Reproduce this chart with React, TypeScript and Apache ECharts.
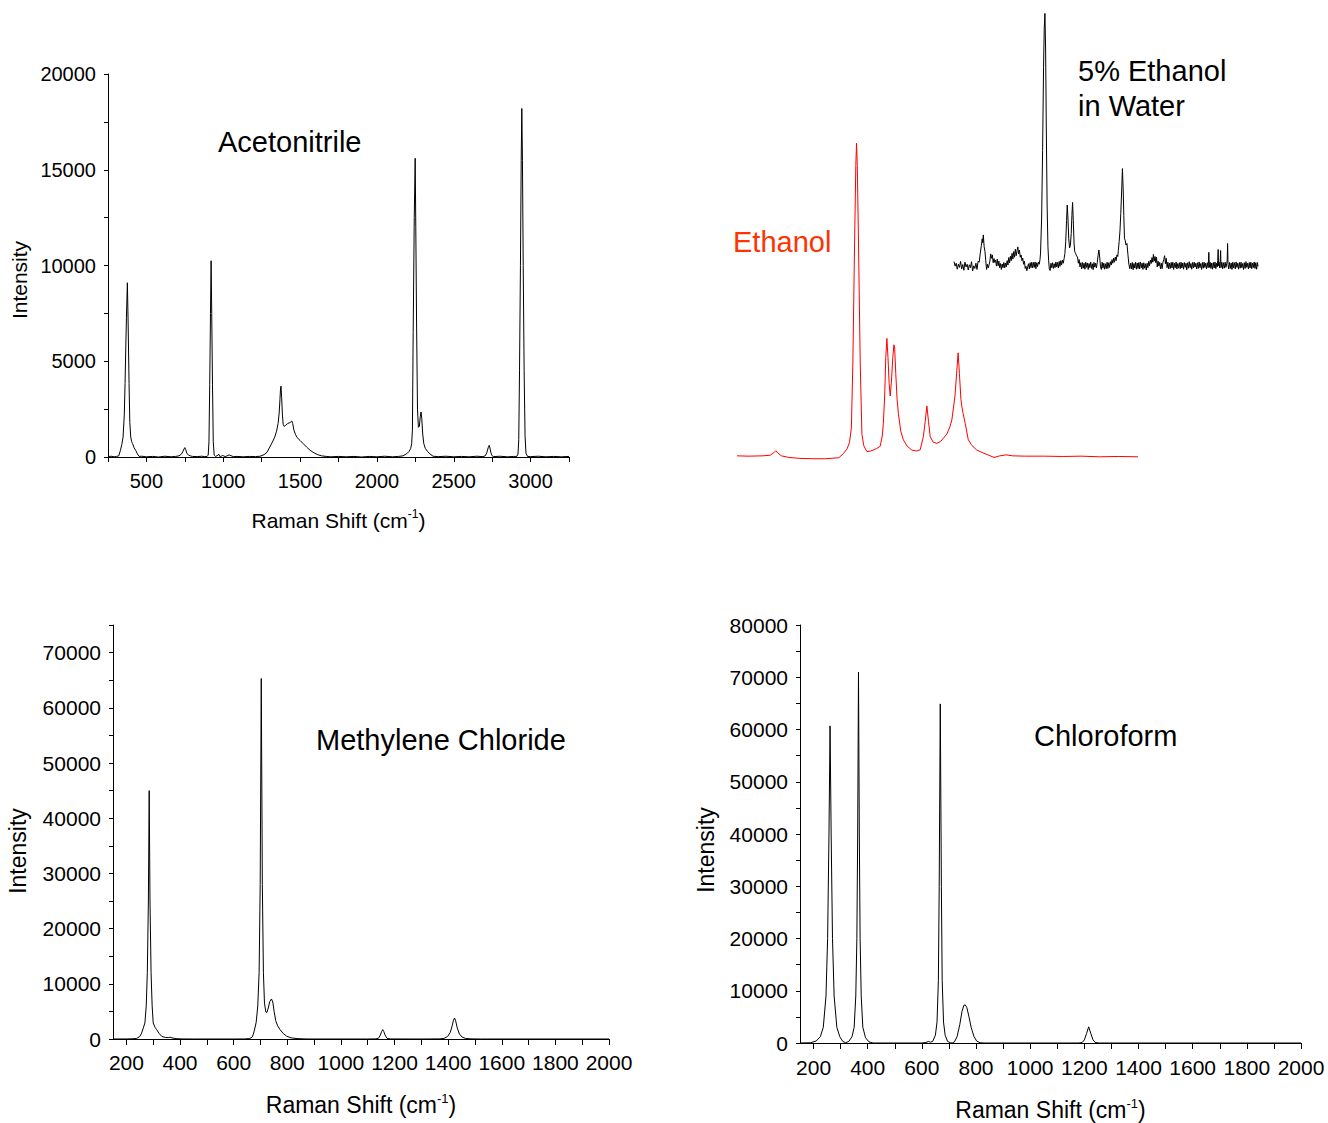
import React, { useEffect, useRef } from "react";
import * as echarts from "echarts";

const FONT = '"Liberation Sans", Arial, Helvetica, sans-serif';

// ---------- Acetonitrile (top-left) ----------
const ACN_X_TICKS = [250, 500, 750, 1000, 1250, 1500, 1750, 2000, 2250, 2500, 2750, 3000, 3250];
const ACN_X_LABELS = [500, 1000, 1500, 2000, 2500, 3000];
const ACN_Y_TICKS = [0, 2500, 5000, 7500, 10000, 12500, 15000, 17500, 20000];
const ACN_Y_LABELS = [0, 5000, 10000, 15000, 20000];
const ACETONITRILE: [number, number][] = [
  [250, 20], [270, 40], [290, 10], [305, 30], [320, 60], [331, 350], [340, 650], [348, 1040], [356, 2200],
  [361, 3830], [366, 5800], [370, 7300], [376, 9100], [381, 7000], [387, 3830], [392, 1800], [398, 1040],
  [404, 800], [410, 700], [420, 480], [430, 350], [440, 180], [452, 30], [470, 40], [500, 10], [540, 30],
  [580, 0], [620, 40], [660, 10], [690, 30], [712, 60], [728, 150], [738, 300], [745, 420], [750, 490],
  [756, 380], [763, 200], [772, 110], [785, 60], [800, 30], [830, 20], [860, 40], [880, 20], [895, 30],
  [902, 100], [907, 800], [912, 3800], [917, 7500], [921, 10250], [925, 7500], [930, 3800], [935, 800],
  [941, 100], [950, 30], [965, 90], [971, 150], [976, 40], [985, 30], [995, 80], [1003, 60], [1012, 20],
  [1025, 60], [1038, 110], [1050, 70], [1065, 20], [1090, 30], [1130, 10], [1170, 30], [1210, 20],
  [1240, 40], [1265, 120], [1285, 250], [1303, 520], [1320, 780], [1335, 1040], [1347, 1350], [1357, 1750],
  [1364, 2300], [1369, 3000], [1373, 3600], [1376, 3700], [1380, 3100], [1385, 2200], [1390, 1700],
  [1396, 1600], [1405, 1650], [1420, 1750], [1435, 1800], [1446, 1880], [1452, 1750], [1460, 1400],
  [1470, 1180], [1480, 1020], [1500, 860], [1520, 700], [1542, 520], [1565, 350], [1590, 220], [1615, 120],
  [1640, 60], [1670, 30], [1700, 10], [1750, 30], [1800, 10], [1850, 30], [1900, 0], [1950, 30], [2000, 10],
  [2050, 40], [2100, 10], [2140, 30], [2170, 60], [2195, 180], [2210, 300], [2220, 450], [2226, 700],
  [2231, 1400], [2236, 6500], [2243, 12500], [2249, 15600], [2253, 12000], [2258, 7000], [2264, 2500],
  [2270, 1550], [2276, 1600], [2282, 2100], [2287, 2350], [2292, 2000], [2298, 1200], [2305, 700],
  [2315, 450], [2330, 280], [2345, 160], [2365, 40], [2400, 20], [2450, 40], [2500, 10], [2550, 30],
  [2600, 10], [2650, 40], [2690, 20], [2705, 60], [2715, 220], [2724, 480], [2731, 610], [2737, 420],
  [2741, 250], [2745, 150], [2750, 60], [2760, 20], [2800, 40], [2850, 10], [2890, 30], [2910, 30],
  [2918, 150], [2923, 900], [2928, 4500], [2934, 10000], [2939, 15500], [2943, 18200], [2947, 15500],
  [2952, 10000], [2958, 4500], [2964, 1100], [2970, 200], [2980, 30], [3000, 20], [3050, 40], [3100, 10],
  [3150, 30], [3200, 10], [3250, 30],
];

// ---------- Ethanol (top-right, red) ----------
const ETHANOL: [number, number][] = [
  [240, 1.3], [300, 1.2], [380, 1.3], [420, 1.5], [440, 2.3], [450, 2.9], [460, 2.2], [480, 1.3], [520, 0.8],
  [580, 0.5], [650, 0.4], [720, 0.4], [790, 0.7], [815, 2], [835, 3.5], [848, 5.5], [858, 10], [866, 30],
  [876, 70], [882, 92], [886, 99], [890, 92], [896, 70], [906, 30], [915, 8], [925, 4.5], [942, 2.6],
  [960, 2.8], [977, 3.1], [995, 3.6], [1014, 4.3], [1025, 7.5], [1031, 11.5], [1038, 20], [1044, 32],
  [1050, 38], [1056, 32], [1062, 24], [1068, 20], [1075, 25], [1082, 32], [1088, 36], [1092, 35],
  [1098, 27], [1105, 19], [1112, 14.6], [1125, 9], [1139, 6.3], [1160, 4.3], [1185, 3.1], [1210, 2.8],
  [1230, 3.2], [1247, 7.3], [1257, 12], [1266, 16.9], [1275, 12], [1284, 7.3], [1300, 5.6], [1320, 5.2],
  [1340, 5.8], [1355, 6.8], [1374, 8.1], [1390, 10.3], [1401, 12.5], [1418, 20], [1428, 28], [1435, 33.5],
  [1442, 27], [1450, 19], [1455, 16.7], [1462, 14.5], [1473, 11.5], [1490, 6.3], [1510, 4.5], [1536, 3.1],
  [1570, 2.2], [1600, 1.5], [1629, 0.8], [1660, 1.3], [1694, 1.6], [1730, 1.3], [1800, 1.2], [1900, 1.2],
  [2000, 1.1], [2100, 1.2], [2200, 1.0], [2300, 1.1], [2407, 1.0],
];

// ---------- 5% Ethanol in Water (top-right, black) ----------
const ETHANOL_WATER: [number, number][] = [
  [220, 3.2], [228, 1.5], [236, 2.6], [244, 0.3], [252, 2.2], [260, 1.0], [268, 3.3], [276, 0.4], [284, 2.1],
  [292, -0.1], [300, 3.0], [308, 1.2], [316, 2.2], [324, 0.0], [332, 2.0], [340, 0.9], [348, 3.2], [356, -0.4],
  [364, 1.6], [372, 0.6], [380, 2.6], [388, 0.2], [396, 3.4], [404, 3.0], [412, 6.5], [420, 9.5], [426, 12],
  [430, 10.5], [434, 13.5], [440, 9], [446, 7.2], [452, 3.5], [458, 0.2], [464, 2.2], [470, 0.8], [476, 2.0],
  [482, 3.4], [488, 6.2], [494, 4.5], [500, 5.8], [506, 2.8], [512, 4.4], [518, 2.9], [524, 3.8], [530, 1.5],
  [536, 4.2], [542, 1.6], [548, 3.4], [554, 0.8], [560, 2.5], [566, 0.2], [572, 2.3], [578, 0.9], [584, 2.9],
  [590, 0.8], [596, 2.7], [602, 1.2], [608, 3.6], [614, 1.9], [620, 4.8], [626, 2.7], [632, 5.3], [638, 3.6],
  [644, 6.4], [650, 4.2], [656, 7.1], [662, 4.9], [668, 8.0], [674, 5.5], [680, 7.4], [686, 8.9], [692, 6.2],
  [698, 7.6], [704, 4.9], [710, 5.8], [716, 3.6], [722, 4.6], [728, 2.2], [734, 3.4], [740, 0.6], [746, 1.4],
  [752, -0.3], [758, 1.2], [764, 2.4], [770, 0.4], [776, 2.8], [782, 0.9], [788, 3.0], [794, 0.8], [800, 2.9],
  [806, 1.0], [812, 3.1], [818, 0.5], [824, 2.8], [830, 1.3], [836, 3.0], [842, 2.2], [848, 4.0], [852, 6.5],
  [860, 20], [867, 46], [874, 78], [879, 93], [884, 98.7], [889, 85], [894, 55], [900, 25], [906, 9],
  [911, 3.8], [916, 0.4], [922, -0.2], [928, 2.6], [934, 0.9], [940, 2.8], [946, 0.6], [952, 2.4], [958, 0.9],
  [964, 3.1], [970, 1.2], [976, 2.9], [982, 0.8], [988, 3.3], [994, 1.4], [1000, 3.6], [1006, 2.0], [1012, 3.8],
  [1018, 2.6], [1024, 4.4], [1030, 6.4], [1036, 11], [1042, 19], [1047, 25], [1052, 20], [1058, 12],
  [1064, 8.5], [1070, 9.5], [1076, 14], [1081, 21], [1086, 26], [1091, 19], [1097, 10], [1102, 7],
  [1108, 6.4], [1115, 5.4], [1122, 5.0], [1128, 2.6], [1134, 4.0], [1140, 1.2], [1146, 2.8], [1152, 0.4],
  [1158, 2.9], [1164, 0.7], [1170, 2.6], [1176, 0.3], [1182, 3.0], [1188, 1.0], [1194, 2.7], [1200, 0.2],
  [1206, 2.5], [1212, 0.9], [1218, 3.1], [1224, 0.6], [1230, 2.4], [1236, 0.1], [1242, 2.9], [1248, 1.1],
  [1254, 2.6], [1260, 0.8], [1266, 2.8], [1272, 5.5], [1278, 7.7], [1284, 5.0], [1290, 1.2], [1296, 0.2],
  [1302, 3.0], [1308, 0.7], [1314, 2.6], [1320, 0.3], [1326, 2.4], [1332, 0.5], [1338, 3.0], [1344, 0.6],
  [1350, 2.8], [1356, 1.0], [1362, 3.2], [1368, 1.9], [1374, 4.0], [1380, 2.6], [1386, 4.6], [1392, 3.0],
  [1398, 5.0], [1404, 3.6], [1410, 5.8], [1416, 5.2], [1420, 7.5], [1426, 10.9], [1432, 15], [1438, 21.8],
  [1444, 30], [1450, 39], [1456, 30], [1460, 21], [1465, 12], [1470, 11.5], [1476, 9.6], [1483, 10.2],
  [1490, 6], [1497, 2.2], [1504, 0.5], [1510, 2.6], [1516, 0.4], [1522, 2.9], [1528, 0.1], [1534, 2.5],
  [1540, 0.8], [1546, 3.0], [1552, 0.3], [1558, 2.7], [1564, 0.6], [1570, 2.9], [1576, 0.4], [1582, 3.1],
  [1588, 0.9], [1594, 2.6], [1600, 0.2], [1606, 2.8], [1612, 0.7], [1618, 2.4], [1624, 0.0], [1630, 2.6],
  [1636, 0.9], [1642, 3.3], [1648, 1.6], [1654, 3.8], [1660, 2.5], [1666, 4.8], [1672, 3.0], [1676, 6.0],
  [1682, 3.4], [1688, 5.2], [1694, 2.8], [1699, 5.0], [1704, 1.2], [1710, 3.4], [1716, 1.5], [1722, 2.9],
  [1728, 0.4], [1734, 2.6], [1740, 0.5], [1746, 3.0], [1752, 4.0], [1758, 5.5], [1764, 2.4], [1770, 4.5],
  [1776, 0.9], [1782, 3.0], [1788, 0.4], [1794, 2.6], [1800, 0.6], [1806, 2.9], [1812, 0.8], [1818, 3.0],
  [1824, 0.2], [1830, 2.6], [1836, 0.9], [1842, 3.1], [1848, 0.4], [1854, 2.5], [1860, 0.7], [1866, 2.8],
  [1872, 0.5], [1878, 3.0], [1884, 0.8], [1890, 2.7], [1896, 0.3], [1902, 2.9], [1908, 1.0], [1914, 2.6],
  [1920, 0.1], [1926, 2.8], [1932, 0.7], [1938, 3.2], [1944, 0.9], [1950, 2.5], [1956, 0.3], [1962, 2.9],
  [1968, 0.8], [1974, 3.0], [1980, 1.1], [1986, 2.6], [1992, 0.4], [1998, 2.8], [2004, 0.6], [2010, 3.1],
  [2016, 0.9], [2022, 2.5], [2028, 0.2], [2034, 2.9], [2040, 0.7], [2046, 3.0], [2052, 1.0], [2058, 2.6],
  [2064, 0.4], [2070, 2.8], [2076, 0.9], [2081, 6.8], [2085, 1.0], [2090, 3.0], [2096, 0.6], [2102, 2.7],
  [2108, 0.3], [2114, 2.9], [2120, 0.8], [2126, 3.1], [2132, 0.5], [2138, 2.6], [2143, 1.2], [2146, 3.6],
  [2149, 7.9], [2152, 1.6], [2156, 3.0], [2160, 0.8], [2164, 3.4], [2167, 7.5], [2170, 0.9], [2176, 3.0],
  [2182, 0.5], [2188, 2.8], [2194, 0.7], [2200, 3.0], [2206, 1.0], [2212, 2.6], [2215, 3.8], [2218, 10.2],
  [2221, 2.2], [2226, 0.4], [2232, 2.9], [2238, 0.6], [2244, 2.7], [2250, 0.2], [2256, 3.0], [2262, 0.8],
  [2268, 2.8], [2274, 0.4], [2280, 3.1], [2286, 1.0], [2292, 2.6], [2298, 0.3], [2304, 2.9], [2310, 0.7],
  [2316, 3.0], [2322, 0.9], [2328, 2.5], [2334, 0.2], [2340, 2.8], [2346, 0.6], [2352, 3.2], [2358, 1.0],
  [2364, 2.6], [2370, 0.4], [2376, 2.9], [2382, 0.8], [2388, 3.0], [2394, 0.5], [2400, 2.7], [2406, 0.9],
  [2412, 3.1], [2418, 0.6], [2424, 2.8], [2430, 0.3], [2436, 2.9], [2440, 1.4],
];

// ---------- Methylene Chloride (bottom-left) ----------
const SHIFT_TICKS = [200, 300, 400, 500, 600, 700, 800, 900, 1000, 1100, 1200, 1300, 1400, 1500, 1600, 1700, 1800, 1900, 2000];
const SHIFT_LABELS = [200, 400, 600, 800, 1000, 1200, 1400, 1600, 1800, 2000];
const MECL_Y_TICKS = [0, 5000, 10000, 15000, 20000, 25000, 30000, 35000, 40000, 45000, 50000, 55000, 60000, 65000, 70000, 75000];
const MECL_Y_LABELS = [0, 10000, 20000, 30000, 40000, 50000, 60000, 70000];
const METHYLENE_CHLORIDE: [number, number][] = [
  [150, 0], [200, 10], [225, 40], [238, 100], [250, 450], [257, 1100], [263, 2000], [269, 2900], [274, 6000],
  [278, 12000], [282, 25000], [285, 45000], [288, 25000], [292, 12000], [296, 6000], [300, 2900], [307, 2100],
  [313, 1690], [322, 1000], [332, 470], [345, 280], [356, 250], [363, 330], [370, 200], [385, 60], [410, 10],
  [450, 0], [600, 0], [640, 10], [660, 80], [670, 400], [676, 1300], [684, 3000], [690, 6000], [695, 12000],
  [699, 28000], [703, 65300], [707, 28000], [711, 12000], [715, 6500], [720, 4900], [724, 4800], [729, 5600],
  [735, 6800], [741, 7250], [746, 6700], [751, 5000], [757, 3300], [764, 2400], [773, 1700], [785, 1000],
  [798, 500], [815, 200], [840, 60], [870, 10], [900, 0], [1100, 0], [1130, 20], [1140, 120], [1147, 700],
  [1152, 1350], [1156, 1700], [1160, 1350], [1165, 700], [1172, 120], [1185, 10], [1300, 0], [1370, 20],
  [1385, 120], [1398, 450], [1408, 1200], [1415, 2400], [1420, 3400], [1424, 3800], [1428, 3300], [1434, 2000],
  [1442, 900], [1452, 350], [1465, 100], [1485, 20], [1520, 0], [2000, 0],
];

// ---------- Chloroform (bottom-right) ----------
const CHCL3_Y_TICKS = [0, 5000, 10000, 15000, 20000, 25000, 30000, 35000, 40000, 45000, 50000, 55000, 60000, 65000, 70000, 75000, 80000];
const CHCL3_Y_LABELS = [0, 10000, 20000, 30000, 40000, 50000, 60000, 70000, 80000];
const CHLOROFORM: [number, number][] = [
  [150, 0], [190, 50], [210, 400], [225, 1200], [236, 3000], [246, 9000], [252, 20000], [257, 40000],
  [261, 60700], [265, 40000], [270, 20000], [276, 9000], [286, 3000], [297, 1200], [308, 300], [318, 50],
  [330, 300], [342, 1200], [350, 3000], [356, 9000], [360, 20000], [363, 40000], [366, 71000], [369, 40000],
  [372, 20000], [376, 9000], [382, 3000], [392, 1000], [405, 200], [420, 0], [600, 0], [615, 100], [625, 300],
  [632, 150], [640, 300], [650, 1500], [656, 4000], [661, 12000], [664, 30000], [668, 64900], [672, 30000],
  [675, 12000], [680, 4000], [686, 1500], [695, 300], [705, 50], [712, 0], [720, 200], [730, 1200],
  [740, 3500], [748, 6000], [755, 7200], [760, 7300], [766, 6800], [774, 5000], [782, 3000], [792, 1300],
  [802, 400], [815, 50], [830, 0], [1180, 0], [1192, 100], [1200, 600], [1208, 1800], [1216, 3100],
  [1224, 1800], [1232, 600], [1240, 100], [1255, 0], [2000, 0],
];

const X_NAME = "{a|Raman Shift (cm}{s|-1}{a|)}";

type PanelOpts = {
  grid: number;
  xMin: number; xMax: number; xTicks: number[]; xLabels: number[];
  yMin: number; yMax: number; yTicks: number[]; yLabels: number[];
  labelSize: number; nameSize: number;
  xLabelMargin: number; yLabelMargin: number;
  xNameGap: number;
  xTickLen: number; yTickLen: number;
};

function panelAxes(o: PanelOpts) {
  const fmt = (v: number) => String(v);
  const xAxis = {
    type: "value", gridIndex: o.grid, min: o.xMin, max: o.xMax,
    name: X_NAME, nameLocation: "middle", nameGap: o.xNameGap,
    nameTextStyle: {
      rich: {
        a: { fontSize: o.nameSize, lineHeight: o.nameSize + 3, fontFamily: FONT, color: "#000" },
        s: { fontSize: Math.round(o.nameSize * 0.58), lineHeight: Math.round(o.nameSize * 0.58), verticalAlign: "top", fontFamily: FONT, color: "#000" },
      },
    },
    axisLine: { show: true, onZero: false, lineStyle: { color: "#000", width: 1 } },
    axisTick: { show: true, length: o.xTickLen, customValues: o.xTicks, lineStyle: { color: "#000", width: 1 } },
    axisLabel: { customValues: o.xLabels, margin: o.xLabelMargin, fontSize: o.labelSize, fontFamily: FONT, color: "#000", formatter: fmt },
    splitLine: { show: false },
  };
  const yAxis = {
    type: "value", gridIndex: o.grid, min: o.yMin, max: o.yMax,
    axisLine: { show: true, onZero: false, lineStyle: { color: "#000", width: 1 } },
    axisTick: { show: true, length: o.yTickLen, customValues: o.yTicks, lineStyle: { color: "#000", width: 1 } },
    axisLabel: { customValues: o.yLabels, margin: o.yLabelMargin, fontSize: o.labelSize, fontFamily: FONT, color: "#000", formatter: fmt },
    splitLine: { show: false },
  };
  return { xAxis, yAxis };
}

function hiddenAxes(grid: number, xMin: number, xMax: number) {
  return {
    xAxis: { type: "value", gridIndex: grid, min: xMin, max: xMax, show: false, splitLine: { show: false } },
    yAxis: { type: "value", gridIndex: grid, min: 0, max: 100, show: false, splitLine: { show: false } },
  };
}

function lineSeries(idx: number, data: [number, number][], color: string) {
  return {
    type: "line", xAxisIndex: idx, yAxisIndex: idx, data, showSymbol: false, symbol: "none", clip: false,
    lineStyle: { color, width: 1 }, itemStyle: { color }, silent: true, z: 3,
  };
}

function yName(x: number, y: number, size: number) {
  return {
    type: "text", x, y, rotation: Math.PI / 2, silent: true,
    style: {
      text: "Intensity", fontSize: size, fontFamily: FONT, fill: "#000",
      align: "center", verticalAlign: "middle", textAlign: "center", textVerticalAlign: "middle",
    },
  };
}

export default function App() {
  const ref = useRef<HTMLDivElement>(null);
  useEffect(() => {
    if (!ref.current) return;
    const chart = echarts.init(ref.current, undefined, { renderer: "svg" });
    const p0 = panelAxes({
      grid: 0, xMin: 250, xMax: 3250, xTicks: ACN_X_TICKS, xLabels: ACN_X_LABELS,
      yMin: 0, yMax: 20000, yTicks: ACN_Y_TICKS, yLabels: ACN_Y_LABELS,
      labelSize: 20, nameSize: 21, xLabelMargin: 14, yLabelMargin: 12, xNameGap: 51,
      xTickLen: 5, yTickLen: 4,
    });
    const p1 = hiddenAxes(1, 240, 2407);
    const p2 = hiddenAxes(2, 220, 2440);
    const p3 = panelAxes({
      grid: 3, xMin: 150, xMax: 2000, xTicks: SHIFT_TICKS, xLabels: SHIFT_LABELS,
      yMin: 0, yMax: 75000, yTicks: MECL_Y_TICKS, yLabels: MECL_Y_LABELS,
      labelSize: 21, nameSize: 23, xLabelMargin: 13, yLabelMargin: 12, xNameGap: 53,
      xTickLen: 6, yTickLen: 4,
    });
    const p4 = panelAxes({
      grid: 4, xMin: 150, xMax: 2000, xTicks: SHIFT_TICKS, xLabels: SHIFT_LABELS,
      yMin: 0, yMax: 80000, yTicks: CHCL3_Y_TICKS, yLabels: CHCL3_Y_LABELS,
      labelSize: 21, nameSize: 23, xLabelMargin: 14, yLabelMargin: 12, xNameGap: 54,
      xTickLen: 6, yTickLen: 4,
    });
    const titleStyle = (text: string, fill = "#000", lineHeight = 34) => ({
      text, fill, fontSize: 29, fontFamily: FONT, lineHeight,
    });
    chart.setOption({
      animation: false,
      backgroundColor: "#ffffff",
      grid: [
        { left: 108, top: 74, width: 461, height: 383 },
        { left: 737, top: 140, width: 401, height: 320 },
        { left: 954, top: 10, width: 304, height: 260 },
        { left: 113, top: 625, width: 496, height: 414 },
        { left: 800, top: 625, width: 501, height: 418 },
      ],
      xAxis: [p0.xAxis, p1.xAxis, p2.xAxis, p3.xAxis, p4.xAxis],
      yAxis: [p0.yAxis, p1.yAxis, p2.yAxis, p3.yAxis, p4.yAxis],
      series: [
        lineSeries(0, ACETONITRILE, "#000000"),
        lineSeries(1, ETHANOL, "#ff0000"),
        lineSeries(2, ETHANOL_WATER, "#000000"),
        lineSeries(3, METHYLENE_CHLORIDE, "#000000"),
        lineSeries(4, CHLOROFORM, "#000000"),
      ],
      graphic: [
        { type: "text", left: 218, top: 125, style: titleStyle("Acetonitrile") },
        { type: "text", left: 733, top: 225, style: titleStyle("Ethanol", "#ff3300") },
        { type: "text", left: 1078, top: 53, style: titleStyle("5% Ethanol\nin Water", "#000", 35) },
        { type: "text", left: 316, top: 723, style: titleStyle("Methylene Chloride") },
        { type: "text", left: 1034, top: 719, style: titleStyle("Chloroform") },
        yName(19, 280, 21),
        yName(18, 851, 23),
        yName(706, 850, 23),
      ],
    });
    return () => chart.dispose();
  }, []);
  return (
    <div
      ref={ref}
      style={{ position: "absolute", left: 0, top: 0, width: 1328, height: 1123, background: "#fff" }}
    />
  );
}
